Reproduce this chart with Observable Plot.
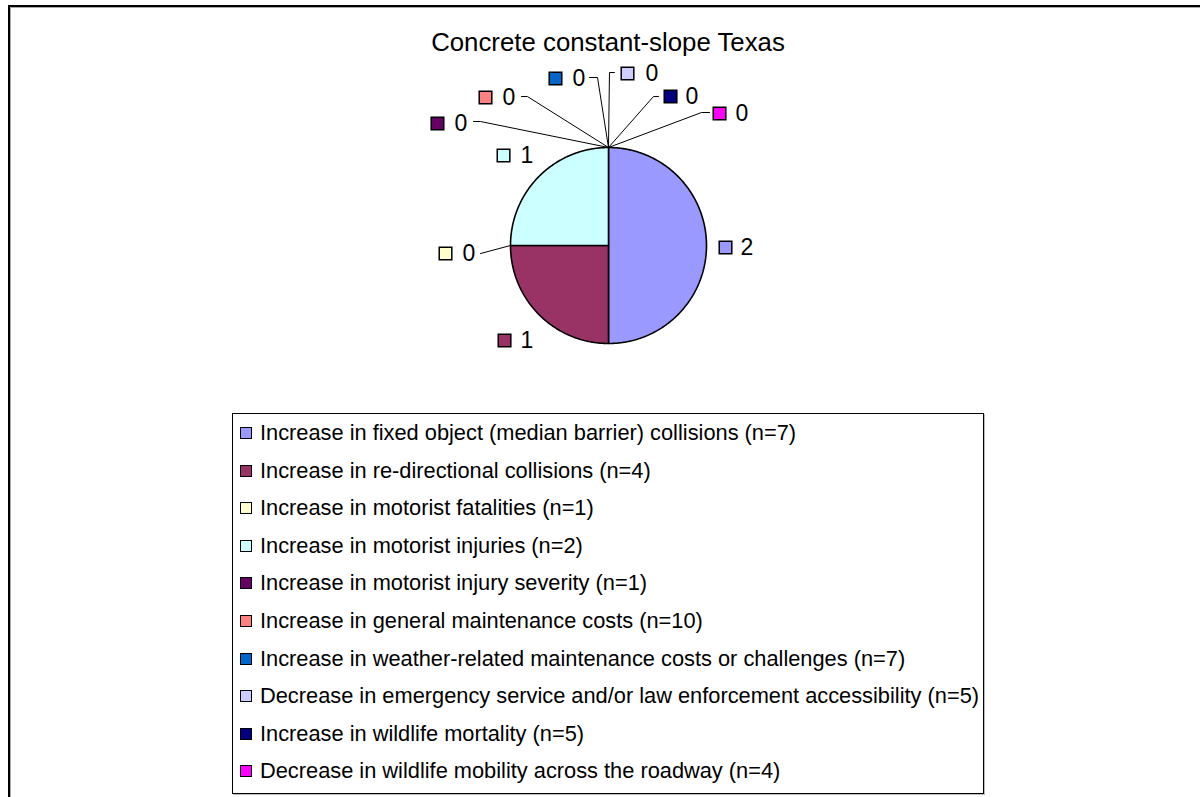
<!DOCTYPE html>
<html>
<head>
<meta charset="utf-8">
<script src="https://cdn.jsdelivr.net/npm/d3@7"></script>
<script src="https://cdn.jsdelivr.net/npm/@observablehq/plot@0.6"></script>
<style>
  html, body { margin: 0; padding: 0; background: #fff; }
  body { width: 1200px; height: 797px; overflow: hidden; font-family: "Liberation Sans", Arial, sans-serif; }
  #wrap { position: relative; width: 1200px; height: 797px; }
  #frame { position: absolute; left: 8px; top: 5px; width: 1300px; height: 900px; border: 2px solid #000; box-shadow: 1px 1px 0 #aaa inset; }
  #title { position: absolute; left: 0; width: 1216px; top: 28px; text-align: center; font-size: 25.8px; color: #000; }
  #chart { position: absolute; left: 0; top: 0; }
  #legend { position: absolute; left: 232px; top: 413px; width: 750px; height: 379px; border: 1px solid #000; box-shadow: 1px 1px 0 #bbb; background: #fff; }
  .item { position: absolute; left: 7px; height: 24px; display: flex; align-items: center; font-size: 21.8px; color: #000; white-space: nowrap; }
  .sw { width: 10px; height: 10px; border: 1.5px solid #000; margin-right: 8px; flex: none; }
</style>
</head>
<body>
<div id="wrap">
  <div id="frame"></div>
  <div id="chart"></div>
  <div id="title"></div>
  <div id="legend"></div>
</div>
<script>
const title = "Concrete constant-slope Texas";
const categories = [
  "Increase in fixed object (median barrier) collisions (n=7)",
  "Increase in re-directional collisions (n=4)",
  "Increase in motorist fatalities (n=1)",
  "Increase in motorist injuries (n=2)",
  "Increase in motorist injury severity (n=1)",
  "Increase in general maintenance costs (n=10)",
  "Increase in weather-related maintenance costs or challenges (n=7)",
  "Decrease in emergency service and/or law enforcement accessibility (n=5)",
  "Increase in wildlife mortality (n=5)",
  "Decrease in wildlife mobility across the roadway (n=4)"
];
const values = [2, 1, 0, 1, 0, 0, 0, 0, 0, 0];
const colors = ["#9999FF", "#993366", "#FFFFCC", "#CCFFFF", "#660066", "#FF8080", "#0066CC", "#CCCCFF", "#000080", "#FF00FF"];

// label layout, in pie-radius units relative to the pie centre (y up)
const labelLayout = [
  {sq: [1.194, -0.020], tx: 1.347, lead: null},
  {sq: [-1.061, -0.969], tx: -0.898, lead: null},
  {sq: [-1.663, -0.082], tx: -1.490, lead: [[-1.306, -0.082]]},
  {sq: [-1.071, 0.918], tx: -0.898, lead: null},
  {sq: [-1.745, 1.245], tx: -1.571, lead: [[-1.378, 1.265], [-1.306, 1.265]]},
  {sq: [-1.255, 1.510], tx: -1.082, lead: [[-0.888, 1.520], [-0.827, 1.520]]},
  {sq: [-0.541, 1.704], tx: -0.367, lead: [[-0.194, 1.714], [-0.112, 1.714]]},
  {sq: [0.194, 1.755], tx: 0.378, lead: [[0.061, 1.765], [0.010, 1.765]]},
  {sq: [0.633, 1.520], tx: 0.786, lead: [[0.510, 1.520], [0.459, 1.520]]},
  {sq: [1.133, 1.347], tx: 1.296, lead: [[1.031, 1.357], [0.949, 1.357]]}
];

document.getElementById("title").textContent = title;

const arcs = d3.pie().sort(null).value(d => d)(values);

// slice polygons
const slicePts = [];
arcs.forEach((a, i) => {
  if (a.endAngle - a.startAngle <= 0) return;
  const cat = categories[i];
  slicePts.push({cat, x: 0, y: 0});
  const n = Math.max(2, Math.ceil((a.endAngle - a.startAngle) / 0.01));
  for (let k = 0; k <= n; k++) {
    const t = a.startAngle + (a.endAngle - a.startAngle) * k / n;
    slicePts.push({cat, x: Math.sin(t), y: Math.cos(t)});
  }
  slicePts.push({cat, x: 0, y: 0});
});

// leader lines
const leaderPts = [];
arcs.forEach((a, i) => {
  const L = labelLayout[i];
  if (!L.lead) return;
  const mid = (a.startAngle + a.endAngle) / 2;
  L.lead.forEach(p => leaderPts.push({k: i, x: p[0], y: p[1]}));
  leaderPts.push({k: i, x: Math.sin(mid), y: Math.cos(mid)});
});

const labels = values.map((v, i) => ({cat: categories[i], v: String(v), sx: labelLayout[i].sq[0], sy: labelLayout[i].sq[1], tx: labelLayout[i].tx}));

const R = 98, CX = 608, CY = 245, W = 1200, H = 797;
const chart = Plot.plot({
  width: W, height: H,
  margin: 0,
  x: {domain: [-CX / R, (W - CX) / R], axis: null},
  y: {domain: [(CY - H) / R, CY / R], axis: null},
  color: {domain: categories, range: colors},
  style: {background: "transparent", overflow: "visible"},
  marks: [
    Plot.line(slicePts, {x: "x", y: "y", z: "cat", fill: "cat", stroke: "#000", strokeWidth: 1.6, strokeLinejoin: "miter"}),
    Plot.line(leaderPts, {x: "x", y: "y", z: "k", stroke: "#000", strokeWidth: 1}),
    Plot.dot(labels, {x: "sx", y: "sy", symbol: "square", r: 7.1, fill: "cat", stroke: "#000", strokeWidth: 1.5}),
    Plot.text(labels, {x: "tx", y: "sy", text: "v", textAnchor: "start", fontSize: 23, fill: "#000", fontFamily: "Liberation Sans, Arial, sans-serif"})
  ]
});
document.getElementById("chart").appendChild(chart);

// legend
const legend = document.getElementById("legend");
categories.forEach((c, i) => {
  const it = document.createElement("div");
  it.className = "item";
  it.style.top = (19 + i * 37.6 - 12) + "px";
  const sw = document.createElement("span");
  sw.className = "sw";
  sw.style.background = colors[i];
  const tx = document.createElement("span");
  tx.textContent = c;
  it.appendChild(sw);
  it.appendChild(tx);
  legend.appendChild(it);
});
</script>
</body>
</html>
